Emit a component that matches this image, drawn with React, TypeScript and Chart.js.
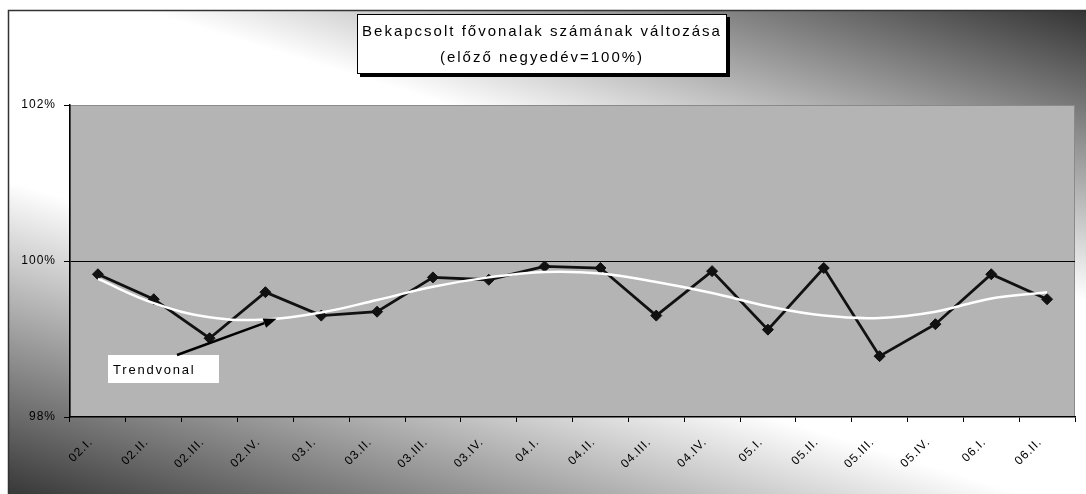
import React, { useEffect, useRef } from 'react';
import { Chart, registerables } from 'chart.js';

Chart.register(...registerables);

const categories = [
  '02.I.', '02.II.', '02.III.', '02.IV.',
  '03.I.', '03.II.', '03.III.', '03.IV.',
  '04.I.', '04.II.', '04.III.', '04.IV.',
  '05.I.', '05.II.', '05.III.', '05.IV.',
  '06.I.', '06.II.',
];

const changeValues = [
  99.83, 99.51, 99.01, 99.60,
  99.30, 99.35, 99.79, 99.76,
  99.93, 99.91, 99.30, 99.87,
  99.12, 99.91, 98.78, 99.19,
  99.83, 99.51,
];

const trendValues = [
  99.77, 99.46, 99.28, 99.25,
  99.34, 99.50, 99.67, 99.79,
  99.86, 99.84, 99.73, 99.59,
  99.42, 99.30, 99.27, 99.35,
  99.52, 99.60,
];

const yTickValues = [98, 100, 102];
const titleLines = ['Bekapcsolt fővonalak számának változása', '(előző negyedév=100%)'];
const trendLabel = 'Trendvonal';
// arrow tip of the "Trendvonal" callout, in data units (category index, value)
const arrowTip = [3.2, 99.26];

const W = 1086;
const H = 494;
const FONT = '"Liberation Sans", Arial, sans-serif';

const backgroundPlugin = {
  id: 'bg',
  beforeDraw(chart: any) {
    const ctx = chart.ctx as CanvasRenderingContext2D;
    const ca = chart.chartArea;
    ctx.save();
    ctx.fillStyle = '#ffffff';
    ctx.fillRect(0, 0, W, H);
    const bx = 8, by = 10;
    // two dark corners (top-right, bottom-left) with a light diagonal band
    const g = ctx.createLinearGradient(658, -124, 428, 620);
    g.addColorStop(0, '#333333');
    g.addColorStop(0.36, '#ffffff');
    g.addColorStop(0.62, '#ffffff');
    g.addColorStop(1, '#3a3a3a');
    ctx.fillStyle = g;
    ctx.fillRect(bx, by, W - bx, H - by);
    // frame (top & left visible)
    ctx.strokeStyle = '#333333';
    ctx.lineWidth = 1.5;
    ctx.beginPath();
    ctx.moveTo(bx + 0.5, H + 2);
    ctx.lineTo(bx + 0.5, by + 0.5);
    ctx.lineTo(W + 2, by + 0.5);
    ctx.stroke();
    // plot area
    ctx.fillStyle = '#b4b4b4';
    ctx.fillRect(ca.left, ca.top, ca.right - ca.left, ca.bottom - ca.top);
    ctx.strokeStyle = '#8a8a8a';
    ctx.lineWidth = 1;
    ctx.strokeRect(ca.left + 0.5, ca.top + 0.5, ca.right - ca.left - 1, ca.bottom - ca.top - 1);
    ctx.restore();
    (ctx as any).letterSpacing = '1px';
  },
  afterDraw(chart: any) {
    const ctx = chart.ctx as CanvasRenderingContext2D;
    const xs = chart.scales.x;
    const ys = chart.scales.y;
    ctx.save();
    // title box
    const tx = 357, ty = 14, tw = 370, th = 60;
    ctx.fillStyle = '#000000';
    ctx.fillRect(tx + 3, ty + 3, tw, th);
    ctx.fillStyle = '#ffffff';
    ctx.fillRect(tx, ty, tw, th);
    ctx.strokeStyle = '#000000';
    ctx.lineWidth = 1;
    ctx.strokeRect(tx + 0.5, ty + 0.5, tw - 1, th - 1);
    (ctx as any).letterSpacing = '2px';
    ctx.fillStyle = '#000000';
    ctx.font = `15px ${FONT}`;
    ctx.textAlign = 'center';
    ctx.textBaseline = 'middle';
    ctx.fillText(titleLines[0], tx + tw / 2, ty + 18);
    ctx.fillText(titleLines[1], tx + tw / 2, ty + 44);

    // Trendvonal callout
    const lx = 108, ly = 355, lw = 111, lh = 28;
    ctx.fillStyle = '#ffffff';
    ctx.fillRect(lx, ly, lw, lh);
    ctx.fillStyle = '#000000';
    (ctx as any).letterSpacing = '1.8px';
    ctx.font = `13px ${FONT}`;
    ctx.textAlign = 'left';
    ctx.fillText(trendLabel, lx + 5, ly + lh / 2 + 1);

    const sx = 177, sy = ly;
    const ex = xs.getPixelForValue(arrowTip[0]);
    const ey = ys.getPixelForValue(arrowTip[1]);
    const ang = Math.atan2(ey - sy, ex - sx);
    const headLen = 13, headW = 5;
    const bxp = ex - headLen * Math.cos(ang);
    const byp = ey - headLen * Math.sin(ang);
    ctx.strokeStyle = '#000000';
    ctx.lineWidth = 2.5;
    ctx.beginPath();
    ctx.moveTo(sx, sy);
    ctx.lineTo(bxp, byp);
    ctx.stroke();
    ctx.beginPath();
    ctx.moveTo(ex, ey);
    ctx.lineTo(bxp + headW * Math.sin(ang), byp - headW * Math.cos(ang));
    ctx.lineTo(bxp - headW * Math.sin(ang), byp + headW * Math.cos(ang));
    ctx.closePath();
    ctx.fill();
    ctx.restore();
  },
};

export default function App() {
  const ref = useRef<HTMLCanvasElement | null>(null);

  useEffect(() => {
    if (!ref.current) return;
    const chart = new Chart(ref.current, {
      type: 'line',
      data: {
        labels: categories,
        datasets: [
          {
            label: 'Trendvonal',
            data: trendValues,
            borderColor: '#ffffff',
            borderWidth: 2.5,
            pointRadius: 0,
            tension: 0.4,
            fill: false,
            order: 1,
          },
          {
            label: 'Változás',
            data: changeValues,
            borderColor: '#111111',
            backgroundColor: '#111111',
            borderWidth: 2.8,
            pointStyle: 'rectRot',
            pointRadius: 5.5,
            pointBorderWidth: 1,
            tension: 0,
            fill: false,
            order: 2,
          },
        ],
      },
      options: {
        responsive: false,
        animation: false,
        devicePixelRatio: 1,
        layout: { padding: { left: 0, right: 11, top: 105, bottom: 0 } },
        plugins: {
          legend: { display: false },
          title: { display: false },
          tooltip: { enabled: false },
        },
        scales: {
          x: {
            type: 'category',
            offset: true,
            grid: {
              offset: true,
              drawOnChartArea: false,
              color: '#000000',
              tickColor: '#000000',
              tickLength: 5,
            },
            border: { display: true, color: '#000000', width: 1.5 },
            ticks: {
              autoSkip: false,
              minRotation: 45,
              maxRotation: 45,
              color: '#000000',
              padding: 13,
              labelOffset: -7,
              font: { family: FONT, size: 12 },
            },
            afterFit(scale: any) {
              scale.height = 77;
            },
          },
          y: {
            min: 98,
            max: 102,
            afterBuildTicks(scale: any) {
              scale.ticks = yTickValues.map((v) => ({ value: v }));
            },
            grid: {
              color: (c: any) => (c.tick && c.tick.value === 100 ? '#000000' : 'rgba(0,0,0,0)'),
              tickColor: '#000000',
              tickLength: 6,
              lineWidth: 1,
            },
            border: { display: true, color: '#000000', width: 1.5 },
            ticks: {
              color: '#000000',
              padding: 8,
              font: { family: FONT, size: 12 },
              callback: (v: any) => `${v}%`,
            },
            afterFit(scale: any) {
              scale.width = 70;
            },
          },
        },
      },
      plugins: [backgroundPlugin],
    });
    return () => chart.destroy();
  }, []);

  return (
    <canvas
      ref={ref}
      width={W}
      height={H}
      style={{ position: 'absolute', left: 0, top: 0, width: W, height: H, display: 'block' }}
    />
  );
}
